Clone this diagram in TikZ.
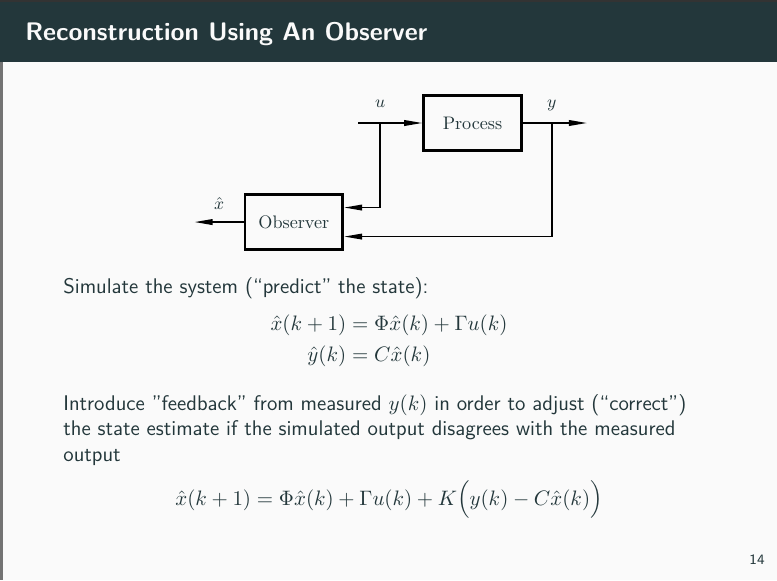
\documentclass[tikz,border=0pt]{standalone}
\usepackage{amsmath}
\usepackage{fontspec}
\usepackage{tikz}
\usetikzlibrary{arrows.meta,positioning,calc}
\definecolor{barteal}{HTML}{23373B}
\definecolor{pagebg}{HTML}{FAFAFA}
\tikzset{
    block/.style={draw=black, line width=1.5pt, minimum width=1.8cm, minimum height=1.0cm, inner sep=0pt, font=\fontsize{9.5}{11}\selectfont},
    flow/.style={-{Triangle[length=3.3mm, width=1.05mm]}, line width=0.7pt, black},
    lbl/.style={inner sep=0pt, font=\fontsize{9.5}{11}\selectfont},
    body/.style={inner sep=0pt, font=\sffamily\fontsize{11.1}{13.4}\selectfont}
}

\begin{document}
\begin{tikzpicture}[x=0.0184cm, y=-0.0184cm, text=barteal]
            % Slide background and title bar
            \fill[pagebg] (0,0) rectangle (777,580);
            \useasboundingbox (0,0) rectangle (777,580);
            \fill[barteal] (0,0) rectangle (777,62);
            \fill[black!80] (0,0) rectangle (777,1.5);
            \fill[black!55] (0,62) rectangle (2.5,580);
            \node[anchor=base west, inner sep=0pt, text=pagebg, font=\sffamily\bfseries\fontsize{13.3}{15}\selectfont] (title) at (25,40) {Reconstruction Using An Observer};

            % Process and observer
            \node[block] (proc) at (472.5,123) {Process};
            \node[block, below left=0.77cm and 1.435cm of proc] (obs) {Observer};
            \coordinate[left=1.178cm of proc.west] (uin);
            \coordinate[left=0.773cm of proc.west] (usplit);
            \coordinate[right=1.178cm of proc.east] (yout);
            \coordinate[right=0.534cm of proc.east] (ysplit);
            \coordinate[left=0.9cm of obs.west] (xout);
            \draw[flow] (uin) -- (proc.west);
            \draw[flow] (proc.east) -- (yout);
            \draw[flow] (usplit) |- ($(obs.east)+(0,0.267cm)$);
            \draw[flow] (ysplit) |- ($(obs.east)+(0,-0.267cm)$);
            \draw[flow] (obs.west) -- (xout);
            \node[lbl, above=0.29cm of usplit, anchor=base] (ulbl) {$u$};
            \node[lbl, above=0.29cm of ysplit, anchor=base] (ylbl) {$y$};
            \node[lbl, above=0.24cm of {$(obs.west)!0.5!(xout)$}, anchor=base] (xlbl) {$\hat{x}$};

            % Prediction
            \node[body, anchor=base west] (sim) at (63,293) {Simulate the system (“predict” the state):};
            \node[inner sep=0pt, font=\fontsize{10.95}{13.4}\selectfont] (pred) at (389,341) {$\begin{aligned} \hat{x}(k+1) &= \Phi\hat{x}(k)+\Gamma u(k)\\ \hat{y}(k) &= C\hat{x}(k) \end{aligned}$};

            % Correction
            \node[body, anchor=north west, align=left] (intro) at (63,394) {Introduce ”feedback” from measured $y(k)$ in order to adjust (“correct”)\\the state estimate if the simulated output disagrees with the measured\\output};
            \node[inner sep=0pt, font=\fontsize{10.95}{13.4}\selectfont, anchor=base] (corr) at (389,505) {$\hat{x}(k+1) = \Phi\hat{x}(k)+\Gamma u(k)+K\Bigl(y(k)-C\hat{x}(k)\Bigr)$};
            \node[body, font=\sffamily\fontsize{7.5}{9}\selectfont, anchor=base east] (page) at (765,564) {14};
        \end{tikzpicture}
\end{document}
